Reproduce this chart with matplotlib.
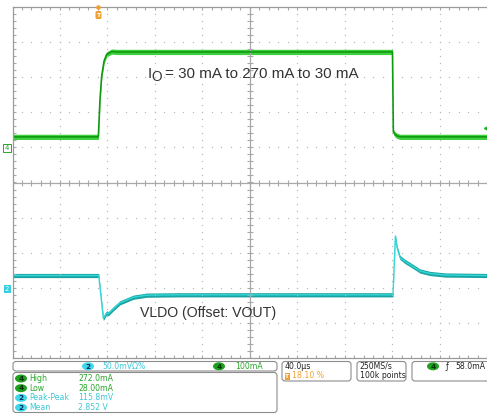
import numpy as np
import matplotlib.pyplot as plt
from matplotlib.patches import FancyBboxPatch, Ellipse, Rectangle, Circle

# channel 4: load current (mA), 100 mA/div
t_io = [0, 72.3, 73.7, 75.1, 77.1, 79.3, 83.5, 87.7, 200, 320.0, 320.7, 322.1, 323.8, 326.3, 400]
io_ma = [30, 30, 137, 203, 246, 265, 273, 272, 272, 272, 45, 37, 33, 30, 30]

# channel 2: VLDO deviation from VOUT (mV), 50 mV/div
t_vo = [0, 72.6, 76.5, 79.3, 80.7, 84.9, 90.5, 101.7, 113.0, 140, 320.4, 322.4, 323.8,
        326.3, 330.5, 334.7, 343.2, 351.6, 364.2, 400]
vo_mv = [18.5, 18.5, -42.7, -34.6, -36.0, -28.9, -20.4, -12.4, -9.5, -9.0, -9.0, 74.5, 58.4,
         44.2, 38.5, 34.2, 24.9, 21.4, 19.2, 18.5]

ch4_pos, ch4_scale = 1.0, 100.0     # div, mA/div
ch2_pos, ch2_scale = -3.02, 50.0    # div, mV/div
time_div = 40.0                     # us/div
trig_pct = 18.10

meas_ch = ['4', '4', '2', '2']
meas_names = ['High', 'Low', 'Peak-Peak', 'Mean']
meas_vals = ['272.0mA', '28.00mA', '115.8mV', '2.852 V']

GREEN = '#2aa52a'
CYAN = '#3cc8d8'
ORANGE = '#f0a030'
GRID = '#b8b8b8'

W, H = 487, 417
fig = plt.figure(figsize=(W / 100, H / 100), dpi=100)
ax = fig.add_axes([12.5 / W, 1 - 358 / H, 475 / W, 351 / H])
ax.set_xlim(0, 10 * time_div)
ax.set_ylim(-5, 5)
ax.set_xticks([])
ax.set_yticks([])
for s in ['left', 'top', 'bottom']:
    ax.spines[s].set_color('#9a9a9a')
    ax.spines[s].set_linewidth(0.9)
ax.spines['right'].set_visible(False)

# dotted graticule
ys = np.arange(-5, 5.01, 0.2)
xs = np.arange(0, 400.1, 8)
for k in range(1, 10):
    if k != 5:
        ax.plot([k * time_div] * len(ys), ys, ls='none', marker='s', ms=0.85, mew=0, color=GRID)
        ax.plot(xs, [k - 5] * len(xs), ls='none', marker='s', ms=0.85, mew=0, color=GRID)
# center lines with minor ticks
ax.axvline(200, color='#a8a8a8', lw=0.9)
ax.axhline(0, color='#a8a8a8', lw=0.9)
ax.plot([200] * len(ys), ys, ls='none', marker='_', ms=4.5, mew=0.8, color='#a8a8a8')
ax.plot(xs, [0] * len(xs), ls='none', marker='|', ms=4.5, mew=0.8, color='#a8a8a8')
# border ticks (inward)
ax.plot([0] * len(ys), ys, ls='none', marker='_', ms=4.5, mew=0.8, color='#a8a8a8')
ax.plot(xs, [5] * len(xs), ls='none', marker='|', ms=4.5, mew=0.8, color='#a8a8a8')
ax.plot(xs, [-5] * len(xs), ls='none', marker='|', ms=4.5, mew=0.8, color='#a8a8a8')

# traces
y4 = ch4_pos + np.array(io_ma) / ch4_scale
ax.fill_between(t_io, y4 - 0.075, y4 + 0.075, color='#3fd03f', lw=0)
ax.plot(t_io, y4, color='#109a10', lw=1.2)

y2 = ch2_pos + np.array(vo_mv) / ch2_scale
ax.fill_between(t_vo, y2 - 0.06, y2 + 0.06, color='#1aa3a3', lw=0)
ax.plot(t_vo, y2, color='#34d6d6', lw=1.0)

# overlay in pixel coordinates
ov = fig.add_axes([0, 0, 1, 1], facecolor='none')
ov.set_xlim(0, W)
ov.set_ylim(H, 0)
ov.axis('off')

ov.text(147.5, 77.5, 'I', fontsize=10.8, family='Liberation Sans', color='#333333', va='baseline')
ov.text(151.2, 81, 'O', fontsize=9.8, family='Liberation Sans', color='#333333', va='baseline')
ov.text(165, 77.5, '= 30 mA to 270 mA to 30 mA', fontsize=10.9, family='Liberation Sans',
        color='#333333', va='baseline')
ov.text(140, 316.7, 'VLDO (Offset: VOUT)', fontsize=10.2, family='Liberation Sans',
        color='#333333', va='baseline')

# trigger marker
tx = 12.5 + trig_pct / 100 * 475
ov.add_patch(Circle((tx, 7.5), 1.6, color=ORANGE))
ov.add_patch(FancyBboxPatch((tx - 3, 11), 6, 8, boxstyle='round,pad=0,rounding_size=1.5', fc=ORANGE, ec='none'))
ov.text(tx, 15.3, 'T', fontsize=4.5, color='white', ha='center', va='center', fontweight='bold')

# channel markers
y_ch4 = 183 - ch4_pos * 35.1
y_ch2 = 183 - ch2_pos * 35.1
ov.add_patch(Rectangle((3, y_ch4 - 4), 8, 8, fc='white', ec=GREEN, lw=0.7))
ov.text(7, y_ch4, '4', fontsize=5, color=GREEN, ha='center', va='center')
ov.add_patch(Rectangle((3.5, y_ch2 - 4), 7, 8, fc='#33d0e0', ec='none'))
ov.text(7, y_ch2, '2', fontsize=5, color='white', ha='center', va='center')
ov.plot([485.5], [127.6], marker='<', ms=3, color='#22b022', ls='none')


def badge(x, y, num, fc, tc):
    ov.add_patch(Ellipse((x, y), 12, 8, fc=fc, ec='none'))
    ov.text(x, y + 0.3, num, fontsize=5.3, color=tc, ha='center', va='center', fontweight='bold')


def box(x0, y0, x1, y1):
    ov.add_patch(FancyBboxPatch((x0, y0), x1 - x0, y1 - y0, boxstyle='round,pad=0,rounding_size=3',
                                fc='white', ec='#8c8c8c', lw=0.8))


fs = 5.6
box(13, 361.5, 277, 371)
box(13, 372.5, 277, 412.5)
box(282, 361.5, 351, 381)
box(357, 361.5, 406, 381)
box(412, 361.5, 495, 381)

badge(88, 366.3, '2', '#3fd8e8', '#0a2a60')
ov.text(102, 366.3, '50.0mVΩ%', fontsize=fs, color=CYAN, va='center')
badge(219, 366.3, '4', '#1fa01f', '#063306')
ov.text(235, 366.3, '100mA', fontsize=fs, color=GREEN, va='center')

ov.text(285, 366.3, '40.0µs', fontsize=fs, color='#222222', va='center')
ov.add_patch(Rectangle((284.5, 372.5), 5, 7, fc=ORANGE, ec='none'))
ov.text(287, 376, 'T', fontsize=4.3, color='white', ha='center', va='center', fontweight='bold')
ov.text(292, 376, '18.10 %', fontsize=fs, color=ORANGE, va='center')

ov.text(359.5, 366.3, '250MS/s', fontsize=fs, color='#222222', va='center')
ov.text(359.5, 376, '100k points', fontsize=fs, color='#222222', va='center')

badge(433, 366.3, '4', '#1fa01f', '#063306')
ov.text(445, 366.3, 'ƒ', fontsize=fs, color='#222222', va='center')
ov.text(455.5, 366.3, '58.0mA', fontsize=fs, color='#222222', va='center')

for i, (c, n, v) in enumerate(zip(meas_ch, meas_names, meas_vals)):
    yy = 378.5 + i * 9.7
    col = GREEN if c == '4' else CYAN
    if c == '4':
        badge(21, yy, c, '#1fa01f', '#063306')
    else:
        badge(21, yy, c, '#3fd8e8', '#0a2a60')
    ov.text(29.5, yy, n, fontsize=fs, color=col, va='center')
    ov.text(78, yy, v, fontsize=fs, color=col, va='center')

fig.savefig('out.png', dpi=100)
